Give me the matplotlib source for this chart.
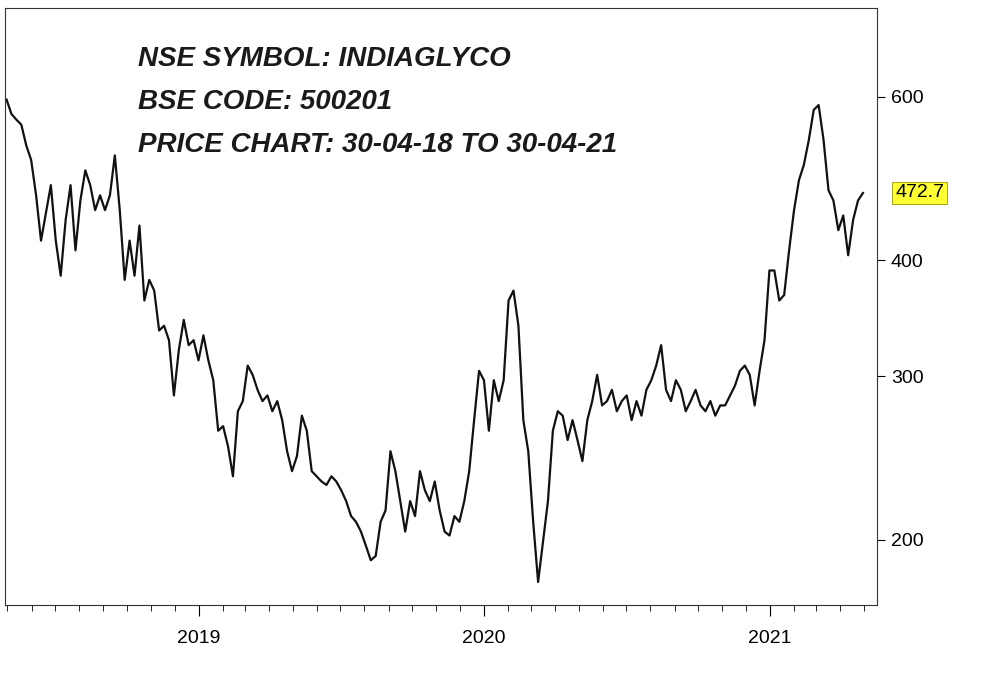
import matplotlib
matplotlib.use("Agg")
import matplotlib.pyplot as plt
import matplotlib.dates as mdates
import matplotlib.ticker as mticker
import pandas as pd

plt.rcParams['font.family'] = ['Liberation Sans', 'DejaVu Sans']

prices = [596,575,567,560,532,513,470,420,450,482,420,385,442,482,410,464,500,482,453,470,453,470,519,453,381,420,385,436,362,381,371,336,340,328,286,320,345,324,328,312,332,312,297,262,265,252,234,275,282,308,301,290,282,286,275,282,269,249,237,246,272,262,237,234,231,229,234,231,226,220,212,209,204,197,190,192,209,215,249,237,220,204,220,212,237,226,220,231,215,204,202,212,209,220,237,269,304,297,262,297,282,297,362,371,340,269,249,209,180,199,220,262,275,272,256,269,256,243,269,282,301,279,282,290,275,282,286,269,282,272,290,297,308,324,290,282,297,290,275,282,290,279,275,282,272,279,279,286,293,304,308,301,279,304,328,390,390,362,367,410,453,488,507,539,581,588,539,476,464,431,447,405,442,464,472.7]
dates = pd.date_range("2018-04-30", "2021-04-30", periods=len(prices))
last_label = "472.7"
yticks = [200, 300, 400, 600]
title_lines = ["NSE SYMBOL: INDIAGLYCO", "BSE CODE: 500201", "PRICE CHART: 30-04-18 TO 30-04-21"]

fig = plt.figure(figsize=(10, 6.73), dpi=100)
ax = fig.add_axes([0.005, 0.101, 0.872, 0.887])
ax.plot(dates, prices, color="#111111", lw=1.6)
ax.set_yscale("log")
ax.set_ylim(170, 748)
ax.set_xlim(pd.Timestamp("2018-04-28"), pd.Timestamp("2021-05-18"))
ax.yaxis.tick_right()
ax.yaxis.set_major_locator(mticker.FixedLocator(yticks))
ax.yaxis.set_major_formatter(mticker.FixedFormatter([str(v) for v in yticks]))
ax.yaxis.set_minor_locator(mticker.NullLocator())
ax.tick_params(axis="y", labelsize=14, length=6, pad=4)
ax.xaxis.set_major_locator(mdates.YearLocator())
ax.xaxis.set_major_formatter(mdates.DateFormatter("%Y"))
ax.xaxis.set_minor_locator(mdates.MonthLocator())
ax.tick_params(axis="x", which="major", labelsize=14, length=8, pad=10)
ax.tick_params(axis="x", which="minor", length=4)
for s in ax.spines.values():
    s.set_color("#333333")
for i, t in enumerate(title_lines):
    ax.text(0.152, 0.915 - i * 0.072, t, transform=ax.transAxes, fontsize=20,
            fontweight="bold", fontstyle="italic", color="#1a1a1a", va="center")
ax.annotate(last_label, xy=(1.0, prices[-1]), xycoords=("axes fraction", "data"),
            xytext=(13, 0), textcoords="offset points", va="center", fontsize=14,
            bbox=dict(boxstyle="square,pad=0.15", fc="#ffff33", ec="#999900", lw=0.6))
fig.savefig("out.png", dpi=100)
